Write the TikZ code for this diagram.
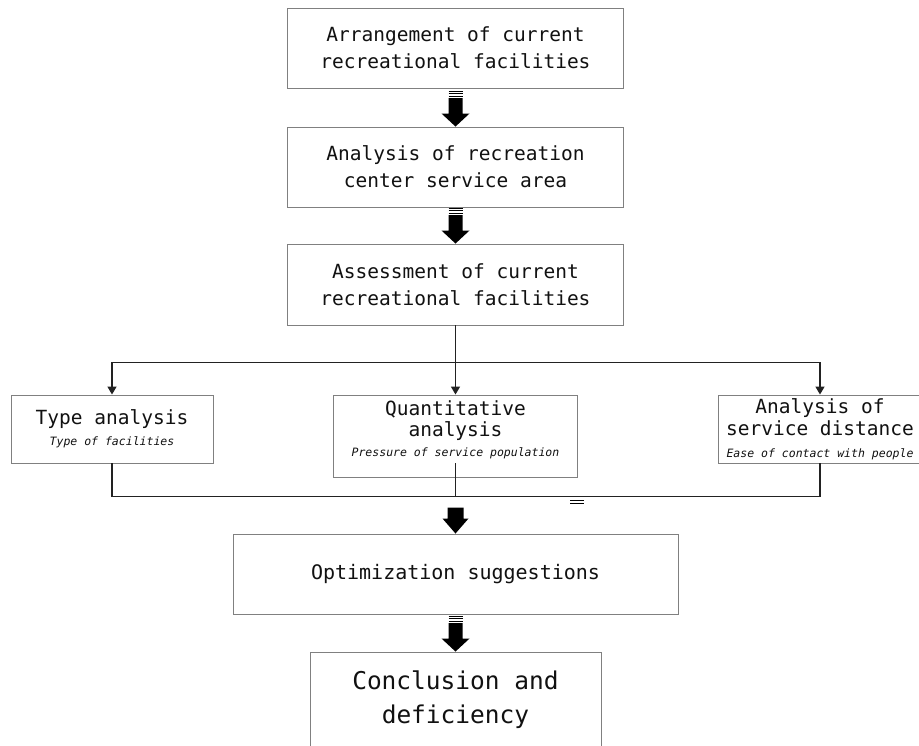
\documentclass[tikz,border=0pt]{standalone}
\usepackage{fontspec}
\usetikzlibrary{calc,arrows.meta}
\newfontfamily\mono{DejaVu Sans Mono}
\definecolor{boxline}{HTML}{808080}
\definecolor{conn}{HTML}{222222}
\definecolor{ink}{HTML}{111111}
\tikzset{
  box/.style={draw=boxline, line width=0.9pt, rectangle, inner sep=0pt, align=center, text=ink},
  t20/.style={font=\mono\fontsize{19.5}{27}\selectfont},
  conn/.style={draw=conn, line width=1.4pt},
  arr/.style={conn, -{Triangle[width=9pt,length=8pt]}},
}
\newcommand\sub[1]{{\fontsize{11.5}{14}\selectfont\itshape #1}}
\newcommand\stripedarrow[1]{%
  \fill[black] ($(#1.north)+(-14,-13)$) -- (#1.north) -- ($(#1.north)+(14,-13)$) -- ($(#1.north)+(7,-13)$) -- ($(#1.north)+(7,-28.5)$) -- ($(#1.north)+(-7,-28.5)$) -- ($(#1.north)+(-7,-13)$) -- cycle;
  \foreach \d in {30.3,32.8,35.3}{\draw[black,line width=1.2pt] ($(#1.north)+(-7,-\d)$) -- ($(#1.north)+(7,-\d)$);}
}
\newcommand\plainarrow[1]{%
  \fill[black] ($(#1.north)+(-13,-15)$) -- (#1.north) -- ($(#1.north)+(13,-15)$) -- ($(#1.north)+(8,-15)$) -- ($(#1.north)+(8,-26)$) -- ($(#1.north)+(-8,-26)$) -- ($(#1.north)+(-8,-15)$) -- cycle;
}
\begin{document}
\begin{tikzpicture}[x=1pt,y=-1pt]
\clip (0,0) rectangle (919,746);
\fill[white] (0,0) rectangle (919,746);

\node[box,t20,minimum width=336pt,minimum height=80pt] (b1) at (455.5,48) {Arrangement of current\\recreational facilities};
\node[box,t20,minimum width=336pt,minimum height=80pt] (b2) at (455.5,167) {Analysis of recreation\\center service area};
\node[box,t20,minimum width=336pt,minimum height=81pt] (b3) at (455.5,284.5) {Assessment of current\\recreational facilities};

\node[box,font=\mono\fontsize{19.5}{21}\selectfont,minimum width=202pt,minimum height=68pt] (l) at (112,429) {Type analysis\\\sub{Type of facilities}};
\node[box,minimum width=244pt,minimum height=82pt] (m) at (455.5,436) {};
\node[font=\mono\fontsize{19.5}{20.5}\selectfont,align=center,text=ink,inner sep=0pt] (mt) at (455.5,430) {Quantitative\\analysis\\\sub{Pressure of service population}};
\node[box,font=\mono\fontsize{19.5}{22}\selectfont,minimum width=204pt,minimum height=68pt] (r) at (820,429) {Analysis of\\service distance\\\sub{Ease of contact with people}};

\node[box,font=\mono\fontsize{20}{27}\selectfont,minimum width=445pt,minimum height=80pt] (o) at (455.5,574) {Optimization suggestions};
\node[box,minimum width=291pt,minimum height=118pt] (c) at (455.5,711) {};
\node[font=\mono\fontsize{24.5}{34}\selectfont,align=center,text=ink] (ct) at (455.5,700) {Conclusion and\\deficiency};

% block arrows
\stripedarrow{b2}
\stripedarrow{b3}
\stripedarrow{c}
\plainarrow{o}

% split connectors
\coordinate (j) at ($(b3.south)+(0,37)$);
\draw[conn] (b3.south) -- (j);
\draw[arr] (j) -| (l.north);
\draw[arr] (j) -| (r.north);
\draw[arr] (j) -- (m.north);

% merge connectors
\coordinate (k) at ($(m.south)+(0,19)$);
\draw[conn] (l.south) |- (k);
\draw[conn] (r.south) |- (k);
\draw[conn] ($(m.south)+(0,-14)$) -- (k);

% small double mark
\coordinate (eq) at (577,502);
\draw[black,line width=1.1pt] ($(eq)+(-7,-1.6)$) -- ($(eq)+(7,-1.6)$);
\draw[black,line width=1.1pt] ($(eq)+(-7,1.6)$) -- ($(eq)+(7,1.6)$);
\end{tikzpicture}
\end{document}
